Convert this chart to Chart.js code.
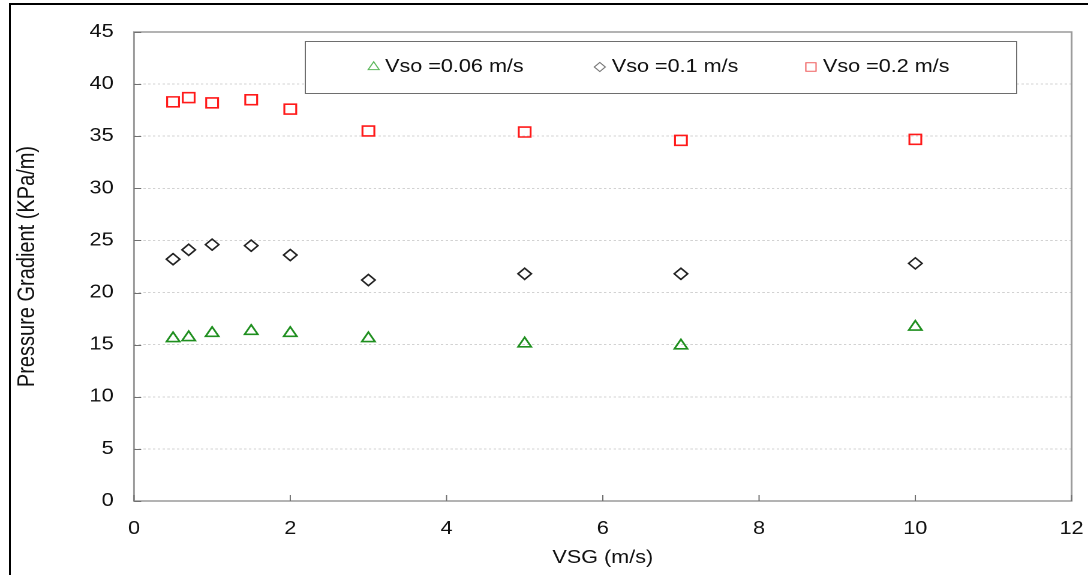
<!DOCTYPE html>
<html>
<head>
<meta charset="utf-8">
<script src="https://cdn.jsdelivr.net/npm/chart.js@4/dist/chart.umd.min.js"></script>
<style>
  body { margin: 0; background: #fff; overflow: hidden; width: 1088px; height: 575px; position: relative; }
  #frame { position: absolute; left: 9px; top: 3px; width: 1200px; height: 700px; border: 2px solid #000; }
  #wrap { position: absolute; left: 0; top: 0; width: 907px; height: 575px; transform: scaleX(1.1996); transform-origin: 0 0; }
</style>
</head>
<body>
<div id="frame"></div>
<div id="wrap"><canvas id="myChart" width="907" height="575"></canvas></div>
<script>
// VSG values (m/s)
let vsg = [0.5, 0.7, 1, 1.5, 2, 3, 5, 7, 10];

// pressure gradient (KPa/m) for each Vso
let vso006 = [15.6, 15.7, 16.1, 16.3, 16.1, 15.6, 15.1, 14.9, 16.7];
let vso01 = [23.2, 24.1, 24.6, 24.5, 23.6, 21.2, 21.8, 21.8, 22.8];
let vso02 = [38.3, 38.7, 38.2, 38.5, 37.6, 35.5, 35.4, 34.6, 34.7];

let seriesNames = ['Vso =0.06 m/s', 'Vso =0.1 m/s', 'Vso =0.2 m/s'];
let xTicks = [0, 2, 4, 6, 8, 10, 12];
let yTicks = [0, 5, 10, 15, 20, 25, 30, 35, 40, 45];

function pts(ys) {
    return ys.map((v, i) => ({x: vsg[i], y: v}));
}

// plot box, inside tick marks and the boxed legend
const extras = {
    id: 'extras',
    beforeDatasetsDraw(chart) {
        const {ctx, chartArea: a, scales} = chart;
        ctx.save();
        ctx.strokeStyle = '#9a9a9a';
        ctx.lineWidth = 1.5;
        ctx.strokeRect(a.left, a.top, a.right - a.left, a.bottom - a.top);
        ctx.strokeStyle = '#707070';
        ctx.lineWidth = 1;
        ctx.beginPath();
        scales.y.ticks.forEach(t => {
            let py = Math.round(scales.y.getPixelForValue(t.value)) + 0.5;
            ctx.moveTo(a.left, py);
            ctx.lineTo(a.left + 6, py);
        });
        scales.x.ticks.forEach(t => {
            let px = scales.x.getPixelForValue(t.value);
            ctx.moveTo(px, a.bottom);
            ctx.lineTo(px, a.bottom - 6);
        });
        ctx.stroke();
        ctx.restore();
    },
    afterDraw(chart) {
        const ctx = chart.ctx;
        ctx.save();
        ctx.fillStyle = '#fff';
        ctx.fillRect(254, 41, 593, 52);
        ctx.strokeStyle = '#6e6e6e';
        ctx.lineWidth = 1;
        ctx.strokeRect(254.5, 41.5, 593, 52);
        let iconX = [311.5, 500, 676];
        let textX = [321, 510, 686];
        chart.data.datasets.forEach((ds, i) => {
            ctx.fillStyle = '#fff';
            ctx.strokeStyle = ds.legendColor;
            Chart.helpers.drawPoint(ctx, {pointStyle: ds.pointStyle, radius: ds.pointRadius - 1, borderWidth: 1, rotation: 0}, iconX[i], 67);
            ctx.fillStyle = '#111';
            ctx.font = '18px "Liberation Sans", Arial, sans-serif';
            ctx.textBaseline = 'middle';
            ctx.fillText(ds.label, textX[i], 67);
        });
        ctx.restore();
    }
};

new Chart(document.getElementById('myChart'), {
    type: 'scatter',
    data: {
        datasets: [{
            label: seriesNames[0],
            data: pts(vso006),
            pointStyle: 'triangle',
            pointRadius: 6.3,
            borderWidth: 1.6,
            borderColor: '#1f8f1f',
            backgroundColor: 'rgba(0,0,0,0)',
            legendColor: '#5cb85c'
        }, {
            label: seriesNames[1],
            data: pts(vso01),
            pointStyle: 'rectRot',
            pointRadius: 5.6,
            borderWidth: 1.5,
            borderColor: '#222222',
            backgroundColor: 'rgba(0,0,0,0)',
            legendColor: '#777777'
        }, {
            label: seriesNames[2],
            data: pts(vso02),
            pointStyle: 'rect',
            pointRadius: 7,
            borderWidth: 1.6,
            borderColor: '#ff1a1a',
            backgroundColor: 'rgba(0,0,0,0)',
            legendColor: '#f06060'
        }]
    },
    options: {
        responsive: false,
        animation: false,
        devicePixelRatio: 2,
        layout: {padding: {left: 8, top: 32, right: 13.7, bottom: 0}},
        plugins: {legend: {display: false}, tooltip: {enabled: false}},
        scales: {
            x: {
                type: 'linear',
                min: 0,
                max: 12,
                afterBuildTicks: s => { s.ticks = xTicks.map(v => ({value: v})); },
                afterFit: s => { s.height = 74; s.paddingLeft = 0; s.paddingRight = 0; },
                grid: {display: false},
                border: {display: false},
                ticks: {padding: 9, color: '#111', font: {size: 18, family: '"Liberation Sans", Arial, sans-serif'}},
                title: {display: true, text: 'VSG (m/s)', color: '#111', padding: {top: 0, bottom: 6},
                    font: {size: 18, family: '"Liberation Sans", Arial, sans-serif'}}
            },
            y: {
                min: 0,
                max: 45,
                afterBuildTicks: s => { s.ticks = yTicks.map(v => ({value: v})); },
                afterFit: s => { s.width = 103.7; s.paddingTop = 0; s.paddingBottom = 0; },
                grid: {color: '#d2d2d2', lineWidth: 1, drawTicks: false},
                border: {display: false, dash: [2, 2]},
                ticks: {padding: 17, color: '#111', font: {size: 18, family: '"Liberation Sans", Arial, sans-serif'}},
                title: {display: true, text: 'Pressure Gradient (KPa/m)', color: '#111', padding: {top: 3, bottom: 0},
                    font: {size: 20, family: '"Liberation Sans", Arial, sans-serif'}}
            }
        }
    },
    plugins: [extras]
});
</script>
</body>
</html>
